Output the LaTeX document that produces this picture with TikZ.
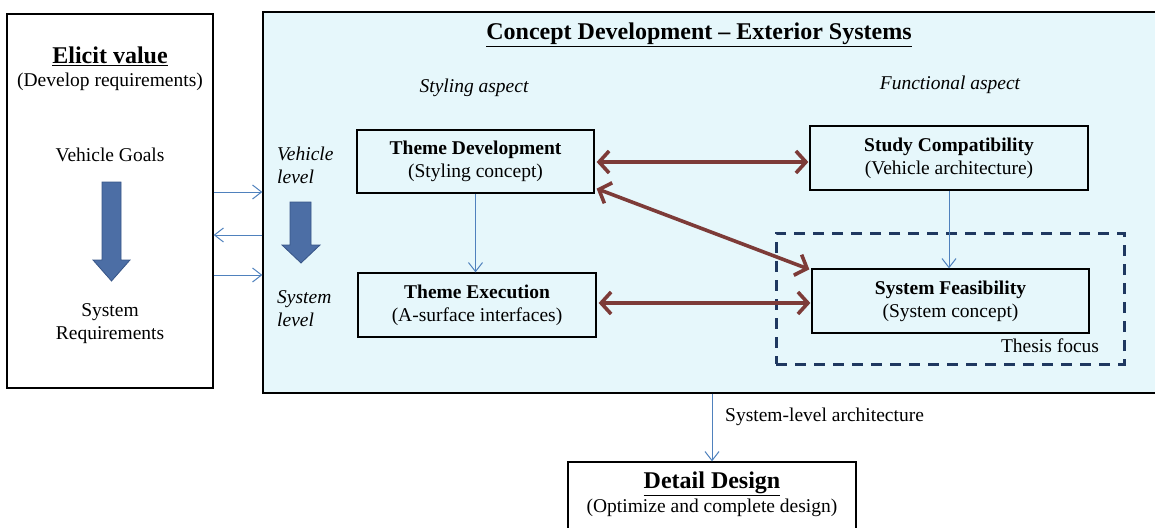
\documentclass[tikz,border=0pt]{standalone}
\usepackage{fontspec}
\setmainfont{Liberation Serif}
\usetikzlibrary{arrows.meta}
\definecolor{bgcyan}{RGB}{230,247,251}
\definecolor{brn}{RGB}{125,59,56}
\definecolor{lnblue}{RGB}{79,129,189}
\definecolor{blkfill}{RGB}{76,110,165}
\definecolor{blkedge}{RGB}{55,85,135}
\definecolor{navy}{RGB}{31,56,96}
\newcommand{\bodyfnt}{\fontsize{19.5}{23}\selectfont}
\newcommand{\headfnt}{\fontsize{24}{27}\selectfont}
\tikzset{
  plainbox/.style={draw=black, line width=1.3pt, inner sep=0pt, align=center, font=\bodyfnt},
  txt/.style={inner sep=0pt, align=center, font=\bodyfnt},
  headtxt/.style={inner sep=0pt, align=center, font=\headfnt\bfseries},
  bluearr/.style={draw=lnblue, line width=1pt, -{Straight Barb[length=9pt,width=14pt,line width=1pt]}},
  brarr/.style={draw=brn, line width=3.6pt, {Straight Barb[length=10pt,width=22pt,line width=3.6pt]}-{Straight Barb[length=10pt,width=22pt,line width=3.6pt]}},
  blockarr/.style={fill=blkfill, draw=blkedge, line width=0.8pt, line join=miter},
  thesisbox/.style={draw=navy, line width=3pt, dash pattern=on 11pt off 8pt, inner sep=0pt}
}
\begin{document}
\begin{tikzpicture}[x=1pt, y=-1pt]
\useasboundingbox (0,0) rectangle (1155,527);
\clip (0,0) rectangle (1155,527);

% left box
\node[plainbox, minimum width=206pt, minimum height=374pt] (elicit) at (110,201) {};
\node[headtxt] (elicitT) at (110,56) {\underline{Elicit value}};
\node[txt] (elicitS) at (110,82) {(Develop requirements)};
\node[txt] (vgoals) at (110,155) {Vehicle Goals};
\node[txt] (sysreq) at (110,323.5) {System\\Requirements};
\draw[blockarr] (102,182) -- (121,182) -- (121,260) -- (130,260) -- (111.5,281) -- (93,260) -- (102,260) -- cycle;

% big concept box
\node[plainbox, fill=bgcyan, minimum width=902pt, minimum height=381pt] (concept) at (714,202.5) {};
\node[headtxt] (conceptT) at (699,35) {\underline{Concept Development -- Exterior Systems}};
\node[txt, font=\bodyfnt\itshape] (styling) at (474,88) {Styling aspect};
\node[txt, font=\bodyfnt\itshape] (functional) at (950,85) {Functional aspect};
\node[txt, font=\bodyfnt\itshape, align=left, anchor=west] (vlevel) at (277,165.5) {Vehicle\\level};
\node[txt, font=\bodyfnt\itshape, align=left, anchor=west] (slevel) at (277,308.5) {System\\level};
\draw[blockarr] (290,202) -- (311,202) -- (311,245) -- (320,245) -- (301,263) -- (282,245) -- (290,245) -- cycle;

% thesis focus dashed region
\node[thesisbox, minimum width=348pt, minimum height=131pt] (thesis) at (950,298.5) {};
\node[txt] (thesisT) at (1050,346) {Thesis focus};

% inner boxes
\node[plainbox, minimum width=237pt, minimum height=63pt] (td) at (475.5,161.5) {\textbf{Theme Development}\\(Styling concept)};
\node[plainbox, minimum width=238pt, minimum height=64pt] (te) at (477,305) {\textbf{Theme Execution}\\(A-surface interfaces)};
\node[plainbox, minimum width=278pt, minimum height=64pt] (sc) at (949,158) {\textbf{Study Compatibility}\\(Vehicle architecture)};
\node[plainbox, minimum width=277pt, minimum height=64pt] (sf) at (950.5,301) {\textbf{System Feasibility}\\(System concept)};

% detail design box
\node[plainbox, minimum width=288pt, minimum height=90pt] (dd) at (712,507) {};
\node[headtxt] (ddT) at (712,484) {\underline{Detail Design}};
\node[txt] (ddS) at (712,508) {(Optimize and complete design)};
\node[txt, anchor=west] (sla) at (725,417) {System-level architecture};

% helper coordinates for horizontal levels
\coordinate (ya) at (0,192);
\coordinate (yb) at (0,235);
\coordinate (yc) at (0,275);
\coordinate (yd) at (0,162);
\coordinate (ye) at (0,303);

% blue connectors between left box and concept box
\draw[bluearr] (elicit.east |- ya) -- (concept.west |- ya);
\draw[bluearr] (concept.west |- yb) -- (elicit.east |- yb);
\draw[bluearr] (elicit.east |- yc) -- (concept.west |- yc);

% blue vertical connectors
\draw[bluearr] (td.south) -- (td.south |- te.north);
\draw[bluearr] (sc.south) -- (sc.south |- sf.north);
\draw[bluearr] (dd.north |- concept.south) -- (dd.north);

% brown double arrows
\draw[brarr] ([xshift=2pt]td.east |- yd) -- ([xshift=-1pt]sc.west |- yd);
\draw[brarr] ([xshift=2pt,yshift=5pt]td.south east) -- ([xshift=-2pt,yshift=-1pt]sf.north west);
\draw[brarr] ([xshift=2pt]te.east |- ye) -- ([xshift=-1pt]sf.west |- ye);
\end{tikzpicture}
\end{document}
